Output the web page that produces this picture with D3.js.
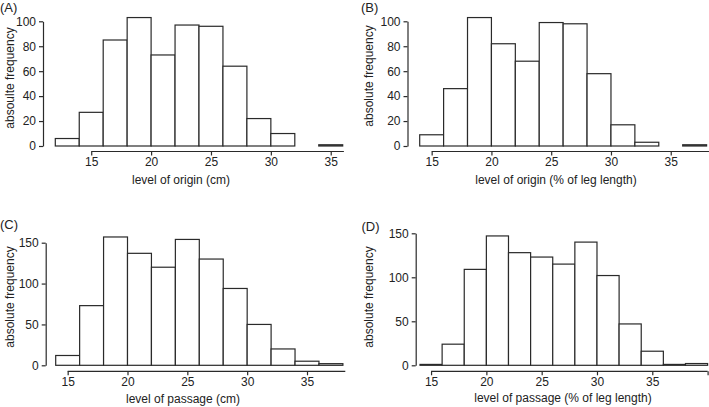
<!DOCTYPE html>
<html>
<head>
<meta charset="utf-8">
<script src="https://cdn.jsdelivr.net/npm/d3@7"></script>
<style>
  html, body { margin: 0; padding: 0; background: #fff; }
  svg { display: block; }
  text { font-family: "Liberation Sans", Arial, sans-serif; fill: #222; }
</style>
</head>
<body>
<svg id="chart" width="709" height="407"></svg>
<script>
// ---- data ----
const binWidth = 2;
const originCmBins = [12, 14, 16, 18, 20, 22, 24, 26, 28, 30, 32, 34];
const originCmCounts = [6, 27, 85, 103, 73, 97, 96, 64, 22, 10, 0, 1];

const originPctBins = [14, 16, 18, 20, 22, 24, 26, 28, 30, 32, 34, 36];
const originPctCounts = [9, 46, 103, 82, 68, 99, 98, 58, 17, 3, 0, 1];

const passageCmBins = [14, 16, 18, 20, 22, 24, 26, 28, 30, 32, 34, 36];
const passageCmCounts = [12, 73, 157, 137, 120, 154, 130, 94, 50, 20, 5, 2];

const passagePctBins = [14, 16, 18, 20, 22, 24, 26, 28, 30, 32, 34, 36, 38];
const passagePctCounts = [1, 24, 109, 147, 128, 123, 115, 140, 102, 47, 16, 1, 2];

const xTicks = [15, 20, 25, 30, 35];
const yTicksAB = [0, 20, 40, 60, 80, 100];
const yTicksCD = [0, 50, 100, 150];

const panelLabels = ["(A)", "(B)", "(C)", "(D)"];
const xTitles = ["level of origin (cm)", "level of origin (% of leg length)",
                 "level of passage (cm)", "level of passage (% of leg length)"];
const yTitles = ["absoulte frequency", "absolute frequency", "absolute frequency", "absolute frequency"];

// ---- layout (pixel positions) ----
const panels = [
  { bins: originCmBins, counts: originCmCounts, xDom: [12, 36], xRange: [55.3, 342.7],
    yDom: [0, 100], yRange: [146, 21.3], yTicks: yTicksAB, yAxisX: 43, xAxisY: 151.5,
    xAxisEnd: 36.1, extraTicks: [], label: [0, 11.5], yTitle: [9.5, 78], xTitle: [181, 184] },
  { bins: originPctBins, counts: originPctCounts, xDom: [14, 38], xRange: [419.7, 706.6],
    yDom: [0, 100], yRange: [146, 21.3], yTicks: yTicksAB, yAxisX: 407.5, xAxisY: 151.5,
    xAxisEnd: 38.2, extraTicks: [], label: [361, 11.5], yTitle: [369, 76], xTitle: [556, 184] },
  { bins: passageCmBins, counts: passageCmCounts, xDom: [14, 38], xRange: [55.7, 342.9],
    yDom: [0, 150], yRange: [365.3, 242.7], yTicks: yTicksCD, yAxisX: 45.7, xAxisY: 371.3,
    xAxisEnd: 38.2, extraTicks: [], label: [0, 229], yTitle: [9.5, 297], xTitle: [183, 402.5] },
  { bins: passagePctBins, counts: passagePctCounts, xDom: [14, 40], xRange: [420, 707.6],
    yDom: [0, 150], yRange: [365.3, 233.3], yTicks: yTicksCD, yAxisX: 415.7, xAxisY: 371.3,
    xAxisEnd: 40, extraTicks: [40], label: [361.5, 230.5], yTitle: [369, 297], xTitle: [563, 402] }
];

const ink = "#2a2a2a";
const svg = d3.select("#chart");

panels.forEach((p, i) => {
  const g = svg.append("g");
  const x = d3.scaleLinear().domain(p.xDom).range(p.xRange);
  const y = d3.scaleLinear().domain(p.yDom).range(p.yRange);

  const data = p.bins.map((b, k) => ({ x0: b, x1: b + binWidth, n: p.counts[k] }))
                     .filter(d => d.n > 0);

  g.selectAll("rect.bar").data(data).enter().append("rect")
    .attr("class", "bar")
    .attr("x", d => x(d.x0))
    .attr("width", d => x(d.x1) - x(d.x0))
    .attr("y", d => y(d.n))
    .attr("height", d => Math.max(0.8, y(0) - y(d.n)))
    .attr("fill", "#fff")
    .attr("stroke", ink)
    .attr("stroke-width", 1.2);

  // y axis
  const ya = g.append("g").attr("transform", `translate(${p.yAxisX},0)`)
    .call(d3.axisLeft(y).tickValues(p.yTicks).tickSize(4).tickSizeOuter(0).tickPadding(3));
  ya.select(".domain").attr("stroke", ink).attr("stroke-width", 1.2);
  ya.selectAll(".tick line").attr("stroke", ink).attr("stroke-width", 1.2);
  ya.selectAll(".tick text").attr("font-size", 12).style("font-family", '"Liberation Sans", Arial, sans-serif').attr("fill", "#222");

  // x axis
  const xa = g.append("g").attr("transform", `translate(0,${p.xAxisY})`)
    .call(d3.axisBottom(x).tickValues(xTicks.concat(p.extraTicks))
      .tickFormat(d => xTicks.includes(d) ? d : "")
      .tickSize(4).tickSizeOuter(0).tickPadding(2));
  xa.select(".domain").remove();
  xa.append("line")
    .attr("x1", x(xTicks[0])).attr("x2", x(p.xAxisEnd))
    .attr("stroke", ink).attr("stroke-width", 1.2);
  xa.selectAll(".tick line").attr("stroke", ink).attr("stroke-width", 1.2);
  xa.selectAll(".tick text").attr("font-size", 12).style("font-family", '"Liberation Sans", Arial, sans-serif').attr("fill", "#222");

  // titles
  g.append("text").attr("x", p.xTitle[0]).attr("y", p.xTitle[1])
    .attr("text-anchor", "middle").attr("font-size", 12).text(xTitles[i]);
  g.append("text")
    .attr("transform", `translate(${p.yTitle[0] + 4},${p.yTitle[1]}) rotate(-90)`)
    .attr("text-anchor", "middle").attr("font-size", 12).text(yTitles[i]);
  g.append("text").attr("x", p.label[0]).attr("y", p.label[1])
    .attr("font-size", 13).text(panelLabels[i]);
});
</script>
</body>
</html>
